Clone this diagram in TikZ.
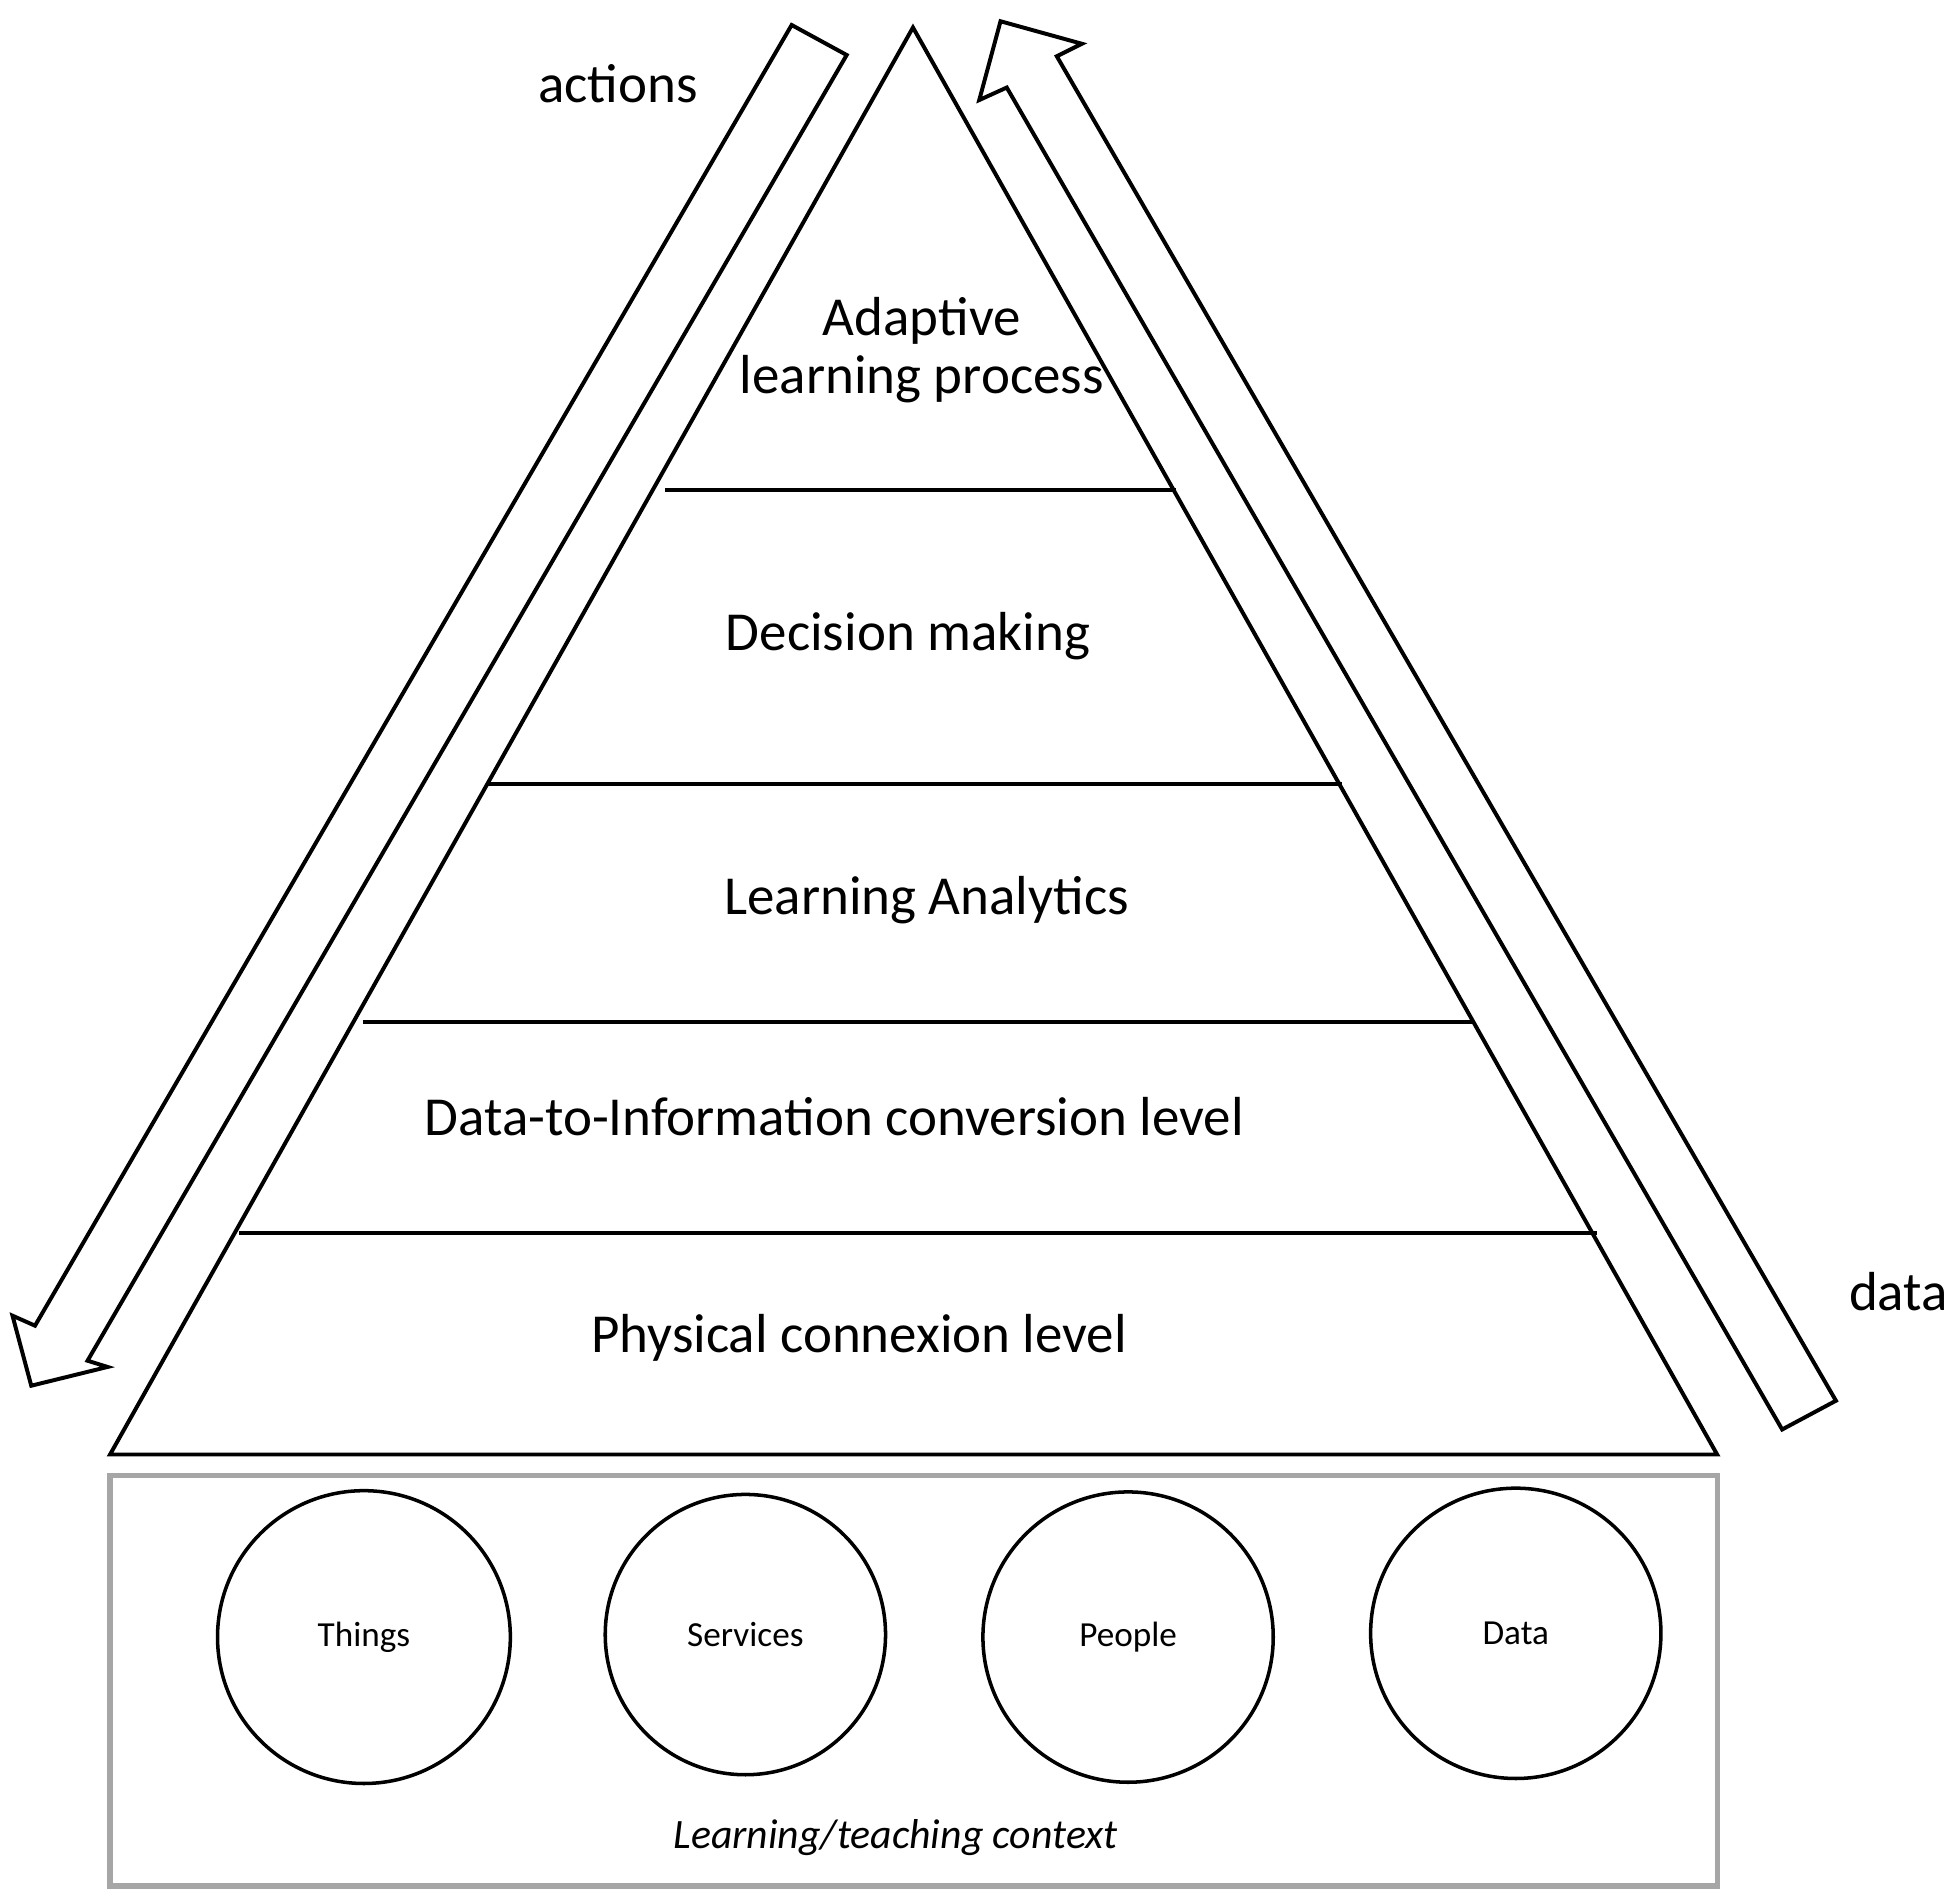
\documentclass[tikz,border=0pt]{standalone}
\usepackage{fontspec}
\setmainfont{Carlito}
\usetikzlibrary{positioning}
\tikzset{
  level/.style={font=\fontsize{12.5}{15}\selectfont,align=center},
  thing/.style={circle,draw,thick,font=\fontsize{8}{10}\selectfont},
  outline/.style={draw,line width=0.9pt,line join=miter}
}
\begin{document}
\begin{tikzpicture}[x=0.01cm,y=-0.01cm]
  \useasboundingbox (0,0) rectangle (1560,1516);
  % pyramid
  \draw [outline] (730,22) -- (1373,1163) -- (88,1163) -- cycle;
  \draw [outline] (532,392) -- (940,392);
  \draw [outline] (390,627) -- (1073,627);
  \draw [outline] (290,817) -- (1177,817);
  \draw [outline] (191,986) -- (1277,986);
  \node [level] (adaptive) at (737,280) {Adaptive\\[-2pt]learning process};
  \node [level] (decision) at (726,509) {Decision making};
  \node [level] (analytics) at (741,720) {Learning Analytics};
  \node [level] (conversion) at (667,893) {Data-to-Information conversion level};
  \node [level] (physical) at (687,1070) {Physical connexion level};
  % side arrows
  \draw [outline] (633,20) -- (677,44) -- (70,1088) -- (86,1093) -- (25,1108) -- (10,1052) -- (28,1060) -- cycle;
  \draw [outline] (1468,1120) -- (845,45) -- (865,35) -- (800,17) -- (783,80) -- (805,70) -- (1425,1143) -- cycle;
  \node [level] (actions) at (494,67) {actions};
  \node [level] (data) at (1518,1033) {data};
  % context
  \draw [gray!70,line width=1.2pt] (88,1180) rectangle (1373,1508);
  \node [thing,minimum size=2.34cm] (things) at (291,1309) {Things};
  \node [thing,minimum size=2.24cm] (services) at (596,1307) {Services};
  \node [thing,minimum size=2.32cm] (people) at (902,1309) {People};
  \node [thing,minimum size=2.32cm] (datac) at (1212,1306) {Data};
  \node [font=\fontsize{9.5}{11}\selectfont\itshape] (context) at (716,1469) {Learning/teaching context};
\end{tikzpicture}
\end{document}
